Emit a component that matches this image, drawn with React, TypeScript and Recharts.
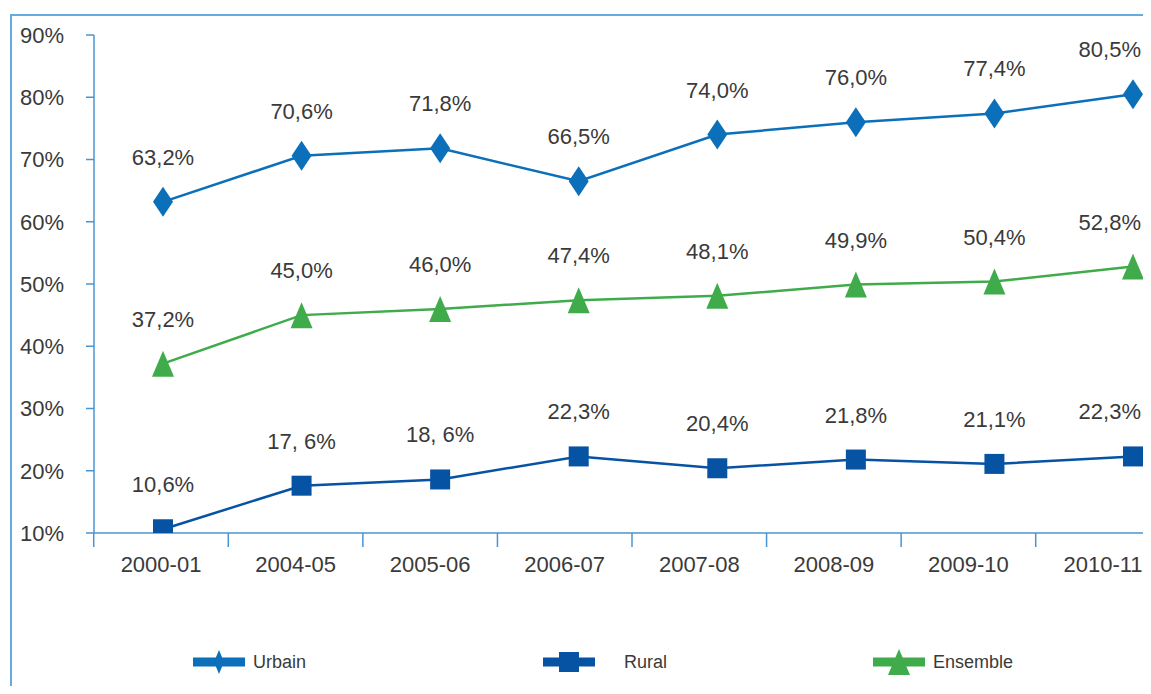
import { Legend, Line, LineChart, XAxis, YAxis } from "recharts";

const categories = ["2000-01", "2004-05", "2005-06", "2006-07", "2007-08", "2008-09", "2009-10", "2010-11"];
const urbain = [63.2, 70.6, 71.8, 66.5, 74.0, 76.0, 77.4, 80.5];
const rural = [10.6, 17.6, 18.6, 22.3, 20.4, 21.8, 21.1, 22.3];
const ensemble = [37.2, 45.0, 46.0, 47.4, 48.1, 49.9, 50.4, 52.8];
const urbainLabels = ["63,2%", "70,6%", "71,8%", "66,5%", "74,0%", "76,0%", "77,4%", "80,5%"];
const ruralLabels = ["10,6%", "17, 6%", "18, 6%", "22,3%", "20,4%", "21,8%", "21,1%", "22,3%"];
const ensembleLabels = ["37,2%", "45,0%", "46,0%", "47,4%", "48,1%", "49,9%", "50,4%", "52,8%"];
const yTicks = [10, 20, 30, 40, 50, 60, 70, 80, 90];

const data = categories.map((name, i) => ({
  name,
  urbain: urbain[i],
  rural: rural[i],
  ensemble: ensemble[i],
}));

const FONT = "'Liberation Sans', Arial, sans-serif";
const TEXT = "#3a3a3a";
const AXIS = "#4a94d2";

// plot area is 94..1202 px wide; label axis is a bit narrower than the data axis (as in the source figure)
const PLOT_W = 1108;
const LAB_PAD = { left: 67, right: 99 };
const HALF_STEP = (PLOT_W - LAB_PAD.left - LAB_PAD.right) / (categories.length - 1) / 2;

type Shape = "diamond" | "square" | "triangle";

const series: { key: string; name: string; color: string; shape: Shape; labels: string[]; legendX: number; textGap: number }[] = [
  { key: "urbain", name: "Urbain", color: "#0b6fba", shape: "diamond", labels: urbainLabels, legendX: 193, textGap: 8 },
  { key: "rural", name: "Rural", color: "#0652a3", shape: "square", labels: ruralLabels, legendX: 543, textGap: 29 },
  { key: "ensemble", name: "Ensemble", color: "#40ab4a", shape: "triangle", labels: ensembleLabels, legendX: 873, textGap: 8 },
];

function Marker({ cx, cy, shape, color, k }: { cx: number; cy: number; shape: Shape; color: string; k?: string | number }) {
  if (shape === "diamond") {
    return <path key={k} d={`M${cx},${cy - 15} L${cx + 10},${cy} L${cx},${cy + 15} L${cx - 10},${cy} Z`} fill={color} />;
  }
  if (shape === "square") {
    return <rect key={k} x={cx - 10} y={cy - 10} width={20} height={20} fill={color} />;
  }
  return <path key={k} d={`M${cx},${cy - 13} L${cx + 11},${cy + 13} L${cx - 11},${cy + 13} Z`} fill={color} />;
}

function CategoryTick(props: any) {
  const { x, y, payload, index } = props;
  const axisY = y - 23;
  return (
    <g>
      <line x1={x - HALF_STEP} x2={x - HALF_STEP} y1={axisY} y2={axisY + 14} stroke={AXIS} strokeWidth={1.5} />
      {index === categories.length - 1 && (
        <line x1={x + HALF_STEP} x2={x + HALF_STEP} y1={axisY} y2={axisY + 14} stroke={AXIS} strokeWidth={1.5} />
      )}
      <text x={x} y={y} dy="0.71em" textAnchor="middle" fill={TEXT} fontSize={22} fontFamily={FONT}>
        {payload.value}
      </text>
    </g>
  );
}

function LegendContent() {
  return (
    <div style={{ position: "relative", width: 1151, height: 30 }}>
      {series.map((s) => (
        <div
          key={s.key}
          style={{ position: "absolute", left: s.legendX, top: 0, height: 30, display: "flex", alignItems: "center" }}
        >
          <svg width={52} height={30}>
            <rect x={0} y={10.5} width={52} height={9} fill={s.color} />
            {s.shape === "diamond" ? (
              <path d="M26,3 L31,15 L26,27 L21,15 Z" fill={s.color} />
            ) : (
              <Marker cx={26} cy={15} shape={s.shape} color={s.color} />
            )}
          </svg>
          <span style={{ marginLeft: s.textGap, fontFamily: FONT, fontSize: 18, color: TEXT }}>{s.name}</span>
        </div>
      ))}
    </div>
  );
}

export default function App() {
  const last = categories.length - 1;
  return (
    <div style={{ position: "relative", margin: -8, width: 1151, height: 694, overflow: "hidden", background: "#fff" }}>
      <div
        style={{
          position: "absolute",
          left: 10,
          top: 14,
          width: 1200,
          height: 800,
          border: "2px solid #64abe0",
        }}
      />
      <div style={{ position: "absolute", left: 0, top: 0 }}>
        <LineChart width={1210} height={694} data={data} margin={{ top: 35, right: 8, left: 0, bottom: 121 }}>
          <XAxis dataKey="name" hide height={0} padding={{ left: 69, right: 69 }} />
          <XAxis
            xAxisId="lab"
            dataKey="name"
            padding={LAB_PAD}
            height={40}
            axisLine={{ stroke: AXIS, strokeWidth: 1.5 }}
            tickLine={false}
            tickSize={14}
            tickMargin={9}
            interval={0}
            tick={<CategoryTick />}
          />
          <YAxis
            width={94}
            domain={[10, 90]}
            ticks={yTicks}
            interval={0}
            allowDataOverflow
            tickFormatter={(v: number) => `${v}%`}
            axisLine={{ stroke: AXIS, strokeWidth: 1.5 }}
            tickLine={{ stroke: AXIS, strokeWidth: 1.5 }}
            tickSize={8}
            tickMargin={22}
            tick={{ fill: TEXT, fontSize: 22, fontFamily: FONT }}
          />
          <Legend
            layout="horizontal"
            verticalAlign="middle"
            align="center"
            wrapperStyle={{ top: 647, left: 0, width: 1151 }}
            content={() => <LegendContent />}
          />
          {series.map((s) => (
            <Line
              key={s.key}
              dataKey={s.key}
              name={s.name}
              stroke={s.color}
              strokeWidth={2.5}
              isAnimationActive={false}
              dot={(p: any) => <Marker k={`${s.key}-${p.index}`} cx={p.cx} cy={p.cy} shape={s.shape} color={s.color} />}
              activeDot={false}
              label={(p: any) => (
                <text
                  key={`${s.key}-l-${p.index}`}
                  x={p.index === last ? p.x + 8 : p.x}
                  y={p.y - 37}
                  textAnchor={p.index === last ? "end" : "middle"}
                  fill={TEXT}
                  fontSize={22}
                  fontFamily={FONT}
                >
                  {s.labels[p.index]}
                </text>
              )}
            />
          ))}
        </LineChart>
      </div>
    </div>
  );
}
